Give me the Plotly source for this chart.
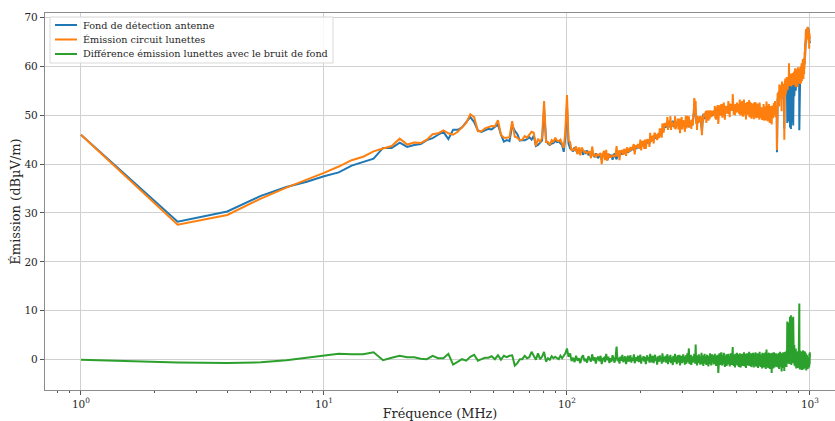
import math
import plotly.graph_objects as go

# Balayage linéaire : 1 MHz à 1000 MHz, pas de 1,5 MHz
f_start = 1.0
f_step = 1.5

# Fond de détection antenne (dBµV/m)
fond = [
    46.0, 28.2, 30.3, 33.5, 35.3, 36.4, 37.5, 38.3, 39.7, 40.4,
    41.1, 43.3, 43.3, 44.4, 43.5, 43.9, 44.1, 44.9, 45.3, 46.0,
    46.6, 45.1, 47.0, 47.0, 47.5, 48.6, 49.6, 48.6, 46.9, 46.6,
    46.9, 47.2, 47.1, 47.6, 48.1, 46.0, 44.6, 44.9, 44.7, 47.9,
    46.8, 46.1, 44.8, 44.9, 44.9, 45.1, 45.5, 45.0, 45.8, 43.7,
    43.9, 44.4, 44.8, 51.3, 44.9, 44.2, 43.9, 44.2, 44.3, 44.8,
    44.5, 44.6, 44.2, 43.9, 42.5, 45.5, 51.8, 44.2, 43.2, 43.0,
    42.6, 43.4, 42.8, 42.2, 43.1, 42.5, 42.9, 41.9, 42.7, 42.3,
    42.8, 41.8, 42.4, 41.6, 42.5, 42.0, 41.4, 42.2, 41.7, 41.2,
    42.1, 41.5, 40.9, 41.8, 42.3, 41.3, 41.7, 40.8, 41.6, 42.0,
    41.3, 41.9, 40.9, 41.5, 42.2, 41.4, 41.0, 41.8, 42.4, 41.6,
    42.0, 42.7, 41.9, 42.4, 42.9, 42.1, 42.6, 43.1, 42.3, 42.8,
    43.2, 42.6, 43.4, 42.9, 43.6, 43.0, 42.7, 43.5, 43.1, 43.8,
    43.3, 43.9, 43.2, 44.0, 43.6, 44.3, 43.7, 44.1, 43.5, 44.4,
    44.0, 44.7, 44.2, 45.0, 44.5, 44.1, 45.2, 44.6, 45.3, 44.8,
    45.5, 44.9, 45.8, 45.2, 46.0, 45.4, 45.9, 45.3, 46.2, 45.7,
    46.4, 45.9, 46.8, 46.2, 47.0, 47.5, 46.9, 47.8, 48.2, 47.4,
    48.3, 47.6, 48.5, 47.9, 48.7, 47.5, 48.1, 48.8, 47.7, 48.4,
    48.0, 48.9, 47.6, 48.3, 47.8, 48.6, 47.4, 48.2, 48.8, 47.9,
    48.4, 47.7, 48.9, 48.1, 47.5, 48.6, 48.0, 48.8, 47.8, 48.3,
    47.9, 48.7, 48.2, 47.6, 48.5, 49.0, 48.1, 47.7, 48.6, 48.2,
    48.8, 47.5, 48.4, 48.0, 48.9, 47.8, 48.3, 48.6, 47.9, 48.5,
    49.2, 50.6, 52.3, 52.7, 51.3, 49.8, 48.7, 49.4, 48.2, 48.9,
    48.4, 49.1, 48.6, 49.5, 48.8, 49.7, 49.0, 48.3, 47.8, 46.8,
    48.2, 49.6, 50.3, 49.4, 50.1, 49.2, 50.5, 49.8, 50.2, 49.5,
    50.4, 49.8, 50.6, 49.9, 50.3, 49.6, 50.7, 50.1, 49.7, 50.5,
    50.0, 50.8, 50.2, 49.8, 50.6, 50.3, 49.9, 50.9, 50.4, 50.1,
    50.7, 50.2, 51.0, 50.4, 50.8, 50.1, 50.6, 51.1, 50.3, 50.9,
    50.5, 51.2, 50.7, 50.2, 51.0, 50.6, 51.3, 50.8, 50.4, 51.1,
    50.7, 51.4, 50.9, 50.5, 51.2, 50.8, 51.5, 50.6, 51.0, 50.7,
    51.3, 50.8, 51.6, 51.0, 50.6, 51.4, 50.9, 51.7, 51.2, 50.8,
    51.5, 51.0, 51.8, 51.3, 50.9, 51.6, 51.1, 52.2, 51.4, 51.0,
    51.7, 51.2, 51.9, 51.4, 51.0, 51.8, 51.3, 51.6, 51.1, 51.9,
    51.4, 51.0, 51.7, 51.2, 51.8, 51.3, 50.9, 51.6, 51.2, 51.8,
    51.0, 51.5, 51.9, 51.3, 50.8, 51.6, 51.2, 51.7, 51.1, 51.5,
    51.3, 51.8, 51.0, 51.6, 51.2, 50.9, 51.7, 51.4, 51.0, 51.6,
    51.2, 51.7, 51.3, 50.8, 51.5, 51.1, 51.8, 51.4, 50.9, 51.6,
    51.3, 51.0, 51.7, 51.2, 51.5, 50.9, 51.4, 51.1, 51.6, 51.0,
    51.5, 51.2, 50.8, 51.6, 51.1, 51.4, 50.9, 51.3, 51.0, 51.5,
    51.1, 50.8, 51.4, 51.0, 50.6, 51.3, 50.9, 51.2, 50.7, 51.1,
    50.8, 51.2, 50.6, 51.0, 50.5, 51.1, 50.7, 51.3, 50.6, 50.9,
    51.2, 50.7, 50.4, 51.0, 50.6, 51.1, 50.5, 50.9, 50.3, 50.8,
    50.6, 51.0, 50.4, 50.8, 50.2, 50.9, 50.5, 50.7, 50.3, 51.0,
    50.5, 50.1, 50.8, 50.4, 50.9, 50.2, 50.7, 50.3, 50.8, 50.4,
    50.1, 50.7, 50.3, 50.9, 50.2, 50.6, 50.0, 50.8, 50.4, 50.5,
    50.2, 50.9, 50.4, 50.1, 50.7, 50.3, 50.8, 50.2, 50.6, 50.0,
    50.5, 50.9, 50.3, 50.8, 50.4, 51.0, 50.6, 50.9, 51.3, 50.7,
    51.2, 50.8, 51.5, 51.0, 51.4, 50.9, 51.6, 51.1, 51.7, 51.3,
    50.6, 51.0, 50.4, 50.8, 50.3, 50.9, 50.5, 42.4, 50.8, 52.3,
    53.4, 52.8, 53.9, 54.4, 53.6, 54.8, 54.1, 53.7, 54.9, 54.3,
    54.7, 55.2, 54.5, 55.0, 54.2, 55.4, 54.8, 55.1, 54.6, 53.2,
    55.0, 55.6, 54.9, 55.3, 55.8, 55.1, 55.5, 54.7, 55.9, 55.4,
    55.7, 55.2, 47.3, 55.8, 55.4, 56.0, 55.5, 55.9, 55.3, 56.1,
    55.6, 56.2, 55.8, 56.4, 55.9, 56.3, 53.3, 48.4, 56.5, 56.0,
    54.0, 49.5, 56.2, 53.6, 48.7, 56.4, 55.1, 56.9, 53.5, 56.7,
    52.7, 47.5, 56.8, 54.3, 48.0, 56.9, 47.2, 52.7, 57.0, 54.2,
    57.1, 52.5, 49.6, 57.2, 53.9, 48.5, 57.3, 56.9, 47.9, 55.2,
    53.3, 57.5, 49.8, 57.1, 53.9, 57.6, 57.0, 54.8, 56.8, 57.7,
    57.2, 57.8, 55.0, 57.6, 57.1, 57.9, 57.4, 57.2, 57.8, 57.5,
    58.0, 57.4, 57.9, 57.6, 58.1, 57.5, 57.9, 57.7, 58.2, 57.6,
    58.1, 57.8, 46.9, 58.3, 57.9, 58.4, 58.0, 58.5, 58.1, 58.6,
    58.2, 58.7, 58.3, 58.9, 58.5, 59.0, 58.6, 59.1, 58.7, 59.3,
    58.9, 59.4, 59.0, 59.6, 59.2, 59.8, 59.4, 60.1, 59.7, 60.3,
    60.0, 60.6, 60.4, 61.2, 61.8, 62.5, 63.3, 64.0, 64.8, 65.3,
    65.8, 66.2, 66.7, 67.0, 66.5, 67.3, 66.8, 67.5, 67.1, 67.6,
    67.2, 67.8, 67.4, 67.9, 67.3, 67.7, 67.1, 67.5, 66.8, 66.2,
    65.7, 65.2, 65.6, 64.9, 65.3, 64.8, 65.0,
]

# Écart émission lunettes - fond (dB)
ecart = [
    0.0, -0.6, -0.7, -0.55, -0.1, 0.4, 0.7, 1.2, 1.1, 1.1,
    1.5, -0.1, 0.4, 0.8, 0.5, 0.5, 0.2, 0.1, 0.8, 0.3,
    0.3, 1.2, -1.0, -0.4, 0.1, -0.2, 0.6, 1.0, -0.2, 0.1,
    0.4, 0.4, 0.7, 0.1, 0.9, 0.0, 0.8, 0.5, 0.8, 0.9,
    -1.2, -0.7, 0.1, 0.1, 0.8, 0.3, 0.5, 1.6, 0.6, 0.0,
    1.3, 0.1, 0.6, 1.6, -0.4, 0.3, 0.0, 0.7, 0.3, 0.6,
    0.3, 0.1, 0.8, 0.3, 0.8, 1.3, 2.3, 0.6, 1.3, -0.3,
    0.4, -0.5, 0.8, -0.2, 0.3, -0.7, 0.5, 0.9, -0.3, 0.2,
    -0.6, 0.7, 0.1, -0.4, 1.1, -0.2, 0.5, -0.8, 0.3, 0.6,
    -0.3, 0.8, -0.9, 0.2, 0.4, -0.5, 1.2, -0.1, 0.6, -0.7,
    0.3, -0.4, 0.9, 0.1, -0.6, 0.5, 2.7, -0.3, 0.4, -0.8,
    0.6, -0.2, 1.0, -0.5, 0.2, 0.7, -0.9, 0.3, 0.8, -0.4,
    0.1, 0.9, -0.6, 0.4, -0.2, 1.1, -0.7, 0.3, 0.5, -0.3,
    0.8, -0.5, 0.2, 1.0, -0.8, 0.4, -0.1, 0.7, -0.4, 0.6,
    -0.9, 0.3, 0.9, -0.2, 0.5, -0.6, 1.2, 0.0, -0.5, 0.8,
    0.2, -0.7, 0.6, 1.0, -0.3, 0.4, -1.0, 0.7, 0.1, -0.4,
    0.9, -0.2, 0.5, -0.8, 1.3, 0.3, -0.5, 0.6, -0.1, 0.8,
    -0.6, 0.4, 1.1, -0.9, 0.2, 0.7, -0.4, 1.0, -0.7, 0.3,
    0.5, -1.1, 0.8, 0.1, -0.5, 1.2, -0.3, 0.6, -0.9, 0.4,
    0.9, -0.6, 0.2, 1.0, -1.2, 0.5, -0.2, 0.8, -0.7, 0.3,
    1.1, -0.4, 0.6, -1.0, 0.3, 0.9, -0.8, 0.2, 1.3, -0.5,
    0.4, 2.3, -0.9, 0.7, -0.3, 1.0, -1.1, 0.5, 0.1, -0.6,
    0.8, -0.4, 1.2, 0.3, -0.8, 3.1, -0.5, 0.6, -1.2, 0.9,
    0.2, -0.7, 1.1, -0.3, 0.5, -1.0, 0.8, -0.2, 1.4, -0.9,
    0.6, 0.1, -1.3, 0.9, -0.4, 1.2, -0.8, 0.3, 0.7, -1.1,
    0.5, 1.0, -0.6, 0.2, -1.4, 0.8, 0.3, -0.9, 1.3, -0.2,
    0.7, -1.2, 0.4, 1.1, -0.5, 0.0, 0.9, -1.0, 0.6, -0.3,
    1.2, -0.8, 0.3, -1.3, 0.8, 0.5, -0.6, 1.0, -0.2, -2.7,
    0.6, -0.9, 1.3, 0.2, -1.1, 0.7, -0.4, 1.5, -0.7, 0.4,
    -1.2, 0.9, 0.1, -0.8, 1.4, -0.3, 0.6, -1.5, 0.8, 0.2,
    -0.6, 1.1, -1.3, 0.5, 0.9, -0.9, 0.3, 1.2, -1.0, 0.4,
    0.8, -1.4, 0.6, -0.2, 1.3, -0.7, 0.2, -1.1, 0.9, 0.5,
    2.6, -0.8, 0.4, -1.3, 1.0, -0.3, 0.7, -1.6, 1.2, 0.1,
    -0.9, 0.8, -0.4, 1.4, -1.2, 0.3, 0.9, -0.7, 1.1, -1.5,
    0.5, -0.2, 1.3, -1.0, 0.6, -1.6, 0.9, 0.2, -0.8, 1.2,
    -0.5, 1.0, -1.3, 0.4, 0.8, -1.1, 1.5, -0.6, 0.3, -1.4,
    0.9, -0.3, 1.2, -1.7, 0.6, 0.1, -0.9, 1.3, -0.4, 0.7,
    -1.2, 1.0, 0.2, -0.8, 1.6, -1.3, 0.5, -0.2, 1.1, -1.0,
    0.4, 1.3, -1.5, 0.7, -0.6, 1.0, -1.1, 0.3, 1.4, -0.9,
    0.6, -1.6, 1.2, -0.3, 0.8, -1.2, 0.5, 1.5, -0.8, 0.2,
    -1.4, 1.1, -0.5, 0.9, -1.0, 1.3, -0.2, -1.7, 0.7, 1.0,
    -0.6, 0.4, -1.3, 1.6, -0.9, 0.3, 1.2, -1.5, 0.8, -0.4,
    1.0, -1.1, 0.6, -1.8, 1.4, -0.3, 0.9, -1.2, 0.5, 1.3,
    -1.6, 0.7, -0.4, 1.1, -1.3, 0.8, -0.7, 1.5, -1.9, 0.4,
    0.9, 2.1, -1.4, 0.6, -1.0, 1.2, -0.5, 0.3, -1.7, 1.0,
    -0.8, 1.4, -1.2, 0.5, 0.9, -1.9, 0.7, -0.3, 1.3, -1.5,
    0.6, -1.0, 1.1, -2.7, 0.8, -0.6, 1.4, -1.3, 0.4, 1.0,
    -1.8, 0.7, -0.4, 1.5, -1.1, 0.9, -1.6, 0.3, 1.2, -0.9,
    0.8, -1.4, 1.3, -0.7, 0.5, -1.2, 1.0, 0.5, -1.5, 0.6,
    1.1, -1.0, 0.4, -1.6, 1.3, -0.5, 0.8, -1.9, 1.4, -0.3,
    0.7, -1.3, 1.6, -0.8, 0.3, -1.5, 1.2, -0.6, 0.9, -2.4,
    0.5, 1.3, -1.1, 0.8, -1.7, 1.0, -0.4, 1.5, -1.3, 0.6,
    -0.9, 1.2, -2.3, 0.7, -1.4, 1.1, -0.6, 1.6, -1.2, 0.4,
    1.3, -1.0, 0.8, -1.5, 1.9, 0.3, 2.4, 7.8, 1.1, -0.8,
    2.6, 7.0, 0.6, 3.2, 7.6, 1.4, 5.5, -0.9, 2.8, 1.2,
    3.5, 8.8, 0.4, 2.1, 8.2, 1.6, 9.1, 3.8, -1.1, 2.4,
    1.0, 4.2, 7.2, 0.8, 2.9, 8.5, 1.3, -0.7, 8.8, 2.2,
    3.6, 0.5, 7.3, 1.8, 3.0, -1.2, 1.5, 2.6, 0.3, 1.9,
    -1.4, 0.9, 2.3, -0.6, 1.2, -1.8, 0.7, 1.6, -1.0, 0.4,
    1.4, -1.7, 0.8, -0.5, 1.7, -1.2, 0.6, 1.1, -1.6, 0.9,
    -0.8, 1.5, 11.5, -1.3, 0.7, -2.0, 1.2, -0.6, 1.8, -1.4,
    0.5, 1.3, -1.8, 0.9, -1.1, 1.6, -0.4, -2.1, 1.0, 0.3,
    -1.5, 1.2, -0.7, 1.9, -1.3, 0.6, -2.0, 1.4, -0.5, 0.8,
    -1.6, 1.1, -0.9, 1.7, -1.2, 0.4, 1.5, -1.8, 0.7, -0.3,
    1.3, -1.4, 0.9, -2.2, 0.6, -0.6, 1.0, -1.5, 0.5, 0.2,
    -1.1, 0.3, -1.9, -0.6, -0.4, -0.8, -1.3, 0.2, 0.5, -0.9,
    0.5, -1.6, 1.2, 0.3, -1.0, 1.5, 0.6,
]

series_names = [
    "Fond de détection antenne",
    "Émission circuit lunettes",
    "Différence émission lunettes avec le bruit de fond",
]
series_colors = ["#1f77b4", "#ff7f0e", "#2ca02c"]

x_tick_vals = [1, 10, 100, 1000]
x_tick_text = ["10<sup>0</sup>", "10<sup>1</sup>", "10<sup>2</sup>", "10<sup>3</sup>"]
x_minor_vals = [0.8, 0.9] + [m * d for d in (1, 10, 100) for m in range(2, 10)]
y_tick_vals = [0, 10, 20, 30, 40, 50, 60, 70]

n = min(len(fond), len(ecart))
fond = fond[:n]
ecart = ecart[:n]
freq = [f_start + f_step * i for i in range(n)]
emission = [round(a + b, 2) for a, b in zip(fond, ecart)]
difference = [round(e - a, 2) for e, a in zip(emission, fond)]

FONT = "DejaVu Serif"
TXT = "#262626"

W, H = 835, 421
ML, MR, MT, MB = 45, 0, 13, 31
PW, PH = W - ML - MR, H - MT - MB


def px_x(p):
    return (p - ML) / PW


def px_y(p):
    return (H - MB - p) / PH


fig = go.Figure()
for name, col, ys in zip(series_names, series_colors, [fond, emission, difference]):
    fig.add_trace(go.Scatter(x=freq, y=ys, mode="lines", name=name,
                             line=dict(color=col, width=2), showlegend=False))

# Légende dessinée à la manière de matplotlib
shapes = [dict(type="rect", xref="paper", yref="paper",
               x0=px_x(50), x1=px_x(333), y0=px_y(63), y1=px_y(17),
               line=dict(color="#d9d9d9", width=1), fillcolor="rgba(255,255,255,0.85)",
               layer="above")]
annotations = []
rows_y = [25, 39.5, 54]
for name, col, ry in zip(series_names, series_colors, rows_y):
    shapes.append(dict(type="line", xref="paper", yref="paper",
                       x0=px_x(55), x1=px_x(77), y0=px_y(ry), y1=px_y(ry),
                       line=dict(color=col, width=2), layer="above"))
    annotations.append(dict(xref="paper", yref="paper", x=px_x(81), y=px_y(ry),
                            xanchor="left", yanchor="middle", text=name, showarrow=False,
                            font=dict(family=FONT, size=9.7, color=TXT)))

fig.update_layout(
    width=W, height=H,
    margin=dict(l=ML, r=MR, t=MT, b=MB),
    paper_bgcolor="white", plot_bgcolor="white",
    font=dict(family=FONT, color=TXT, size=11),
    showlegend=False,
    shapes=shapes,
    annotations=annotations,
)
fig.update_xaxes(
    type="log", range=[-0.148, 3.103],
    tickvals=x_tick_vals, ticktext=x_tick_text,
    ticks="outside", ticklen=4, tickcolor="#555555",
    tickfont=dict(family=FONT, size=10.5, color=TXT),
    showgrid=True, gridcolor="#d0d0d0", gridwidth=1,
    showline=True, linecolor="#8c8c8c", linewidth=1.2, mirror=True,
    zeroline=False,
    minor=dict(tickvals=x_minor_vals, ticks="outside", ticklen=2, tickcolor="#555555", showgrid=False),
    title=dict(text="Fréquence (MHz)", font=dict(family=FONT, size=12.8, color=TXT), standoff=3),
    automargin=False,
)
fig.update_yaxes(
    range=[-6.2, 70.9],
    tickvals=y_tick_vals,
    ticks="outside", ticklen=4, tickcolor="#555555",
    tickfont=dict(family=FONT, size=10.5, color=TXT),
    showgrid=True, gridcolor="#d0d0d0", gridwidth=1,
    showline=True, linecolor="#8c8c8c", linewidth=1.2, mirror=True,
    zeroline=False,
    title=dict(text="Émission (dBµV/m)", font=dict(family=FONT, size=13, color=TXT), standoff=0),
    automargin=False,
)

fig.write_html("out.html", config={"displayModeBar": False},
               post_script="document.body.style.margin='0px';")
